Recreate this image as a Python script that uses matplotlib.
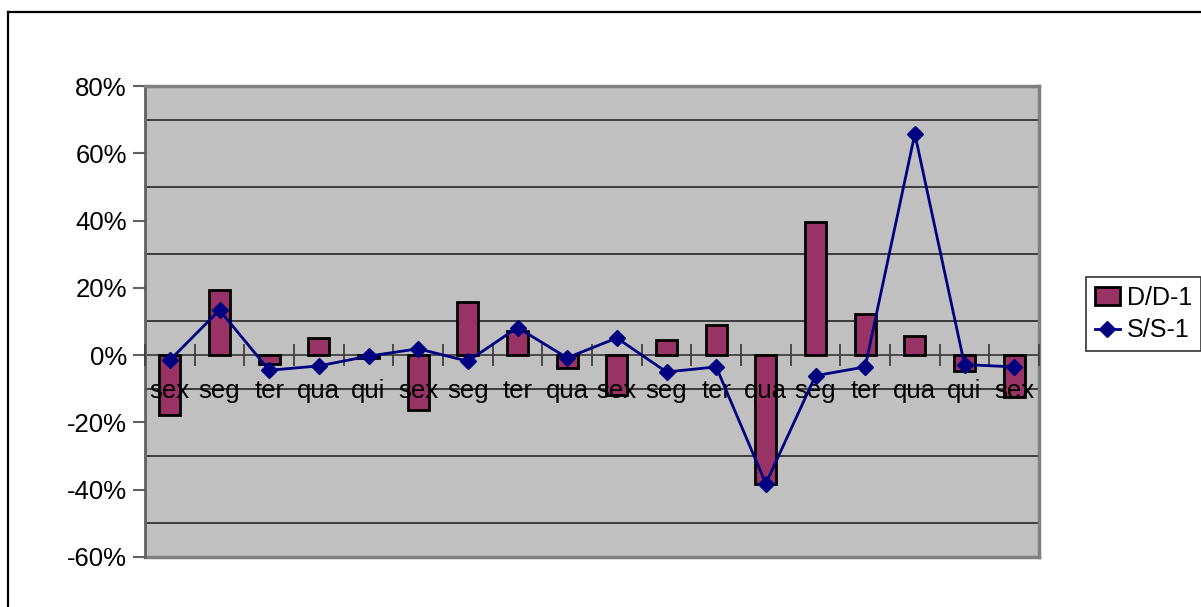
import numpy as np
import matplotlib
matplotlib.use("Agg")
import matplotlib.pyplot as plt
from matplotlib.lines import Line2D
from matplotlib.ticker import FuncFormatter

# dados
dias = ["sex", "seg", "ter", "qua", "qui", "sex", "seg", "ter", "qua",
        "sex", "seg", "ter", "qua", "seg", "ter", "qua", "qui", "sex"]
dd1 = [-17.8, 19.5, -2.6, 5.1, -0.8, -16.3, 15.7, 7.2, -3.8,
       -11.8, 4.4, 8.9, -38.4, 39.6, 12.2, 5.7, -4.8, -12.5]
ss1 = [-1.5, 13.4, -4.5, -3.2, -0.3, 1.9, -1.8, 8.2, -0.8,
       5.1, -5.0, -3.5, -38.2, -6.1, -3.5, 65.8, -2.8, -3.5]

plt.rcParams["font.family"] = ["Liberation Sans", "DejaVu Sans"]

fig = plt.figure(figsize=(12.01, 6.07), dpi=100)
ax = fig.add_axes([145 / 1201, 1 - 557 / 607, (1039 - 145) / 1201, (557 - 86) / 607])
ax.set_facecolor("#c0c0c0")

x = np.arange(len(dias))
barras = ax.bar(x, dd1, width=0.42, color="#993366", edgecolor="black", linewidth=2,
                label="D/D-1", zorder=3)
linha, = ax.plot(x, ss1, color="#000080", linewidth=2, marker="D", markersize=8,
                 label="S/S-1", zorder=6)

ax.set_xlim(-0.5, len(dias) - 0.5)
ax.set_ylim(-60, 80)
ax.set_yticks(np.arange(-60, 81, 20))
ax.yaxis.set_major_formatter(FuncFormatter(lambda v, p: f"{v:.0f}%"))
ax.tick_params(axis="y", labelsize=18.5, length=9, width=1.5, color="#606060", pad=4)

# grade nas linhas impares
for g in [-50, -30, -10, 10, 30, 50, 70]:
    ax.axhline(g, color="#303030", linewidth=1.3, zorder=1)

# eixo x passando pelo zero
ax.spines["bottom"].set_position(("data", 0))
ax.spines["bottom"].set_color("#404040")
ax.spines["bottom"].set_linewidth(1.3)
ax.spines["bottom"].set_zorder(2)
for s in ["top", "right"]:
    ax.spines[s].set_color("#808080")
    ax.spines[s].set_linewidth(2.5)
ax.spines["left"].set_color("#606060")
ax.spines["left"].set_linewidth(2)
ax.axhline(-60, color="#808080", linewidth=2.5, clip_on=False, zorder=2)

ax.set_xticks(x)
ax.set_xticklabels(dias)
ax.set_xticks(np.arange(-0.5, len(dias), 1), minor=True)
ax.tick_params(axis="x", which="major", length=0, labelsize=18.5, pad=17)
ax.tick_params(axis="x", which="minor", direction="inout", length=16, width=1.3,
               color="#404040")
ax.xaxis.set_zorder(5)

leg = ax.legend([barras, linha], ["D/D-1", "S/S-1"], loc="center left",
                bbox_to_anchor=(1086 / 1201, 1 - 314 / 607),
                bbox_transform=fig.transFigure, fontsize=18, frameon=True,
                fancybox=False, edgecolor="black", handlelength=1.0,
                handletextpad=0.3, borderpad=0.35, labelspacing=0.35,
                borderaxespad=0)
leg.get_frame().set_linewidth(1.2)

# moldura externa
fig.add_artist(Line2D([8 / 1201, 8 / 1201], [1 - 12 / 607, 0], color="black",
                      linewidth=1.6, transform=fig.transFigure))
fig.add_artist(Line2D([8 / 1201, 1], [1 - 12 / 607, 1 - 12 / 607], color="black",
                      linewidth=1.6, transform=fig.transFigure))

fig.savefig("out.png", dpi=100)
